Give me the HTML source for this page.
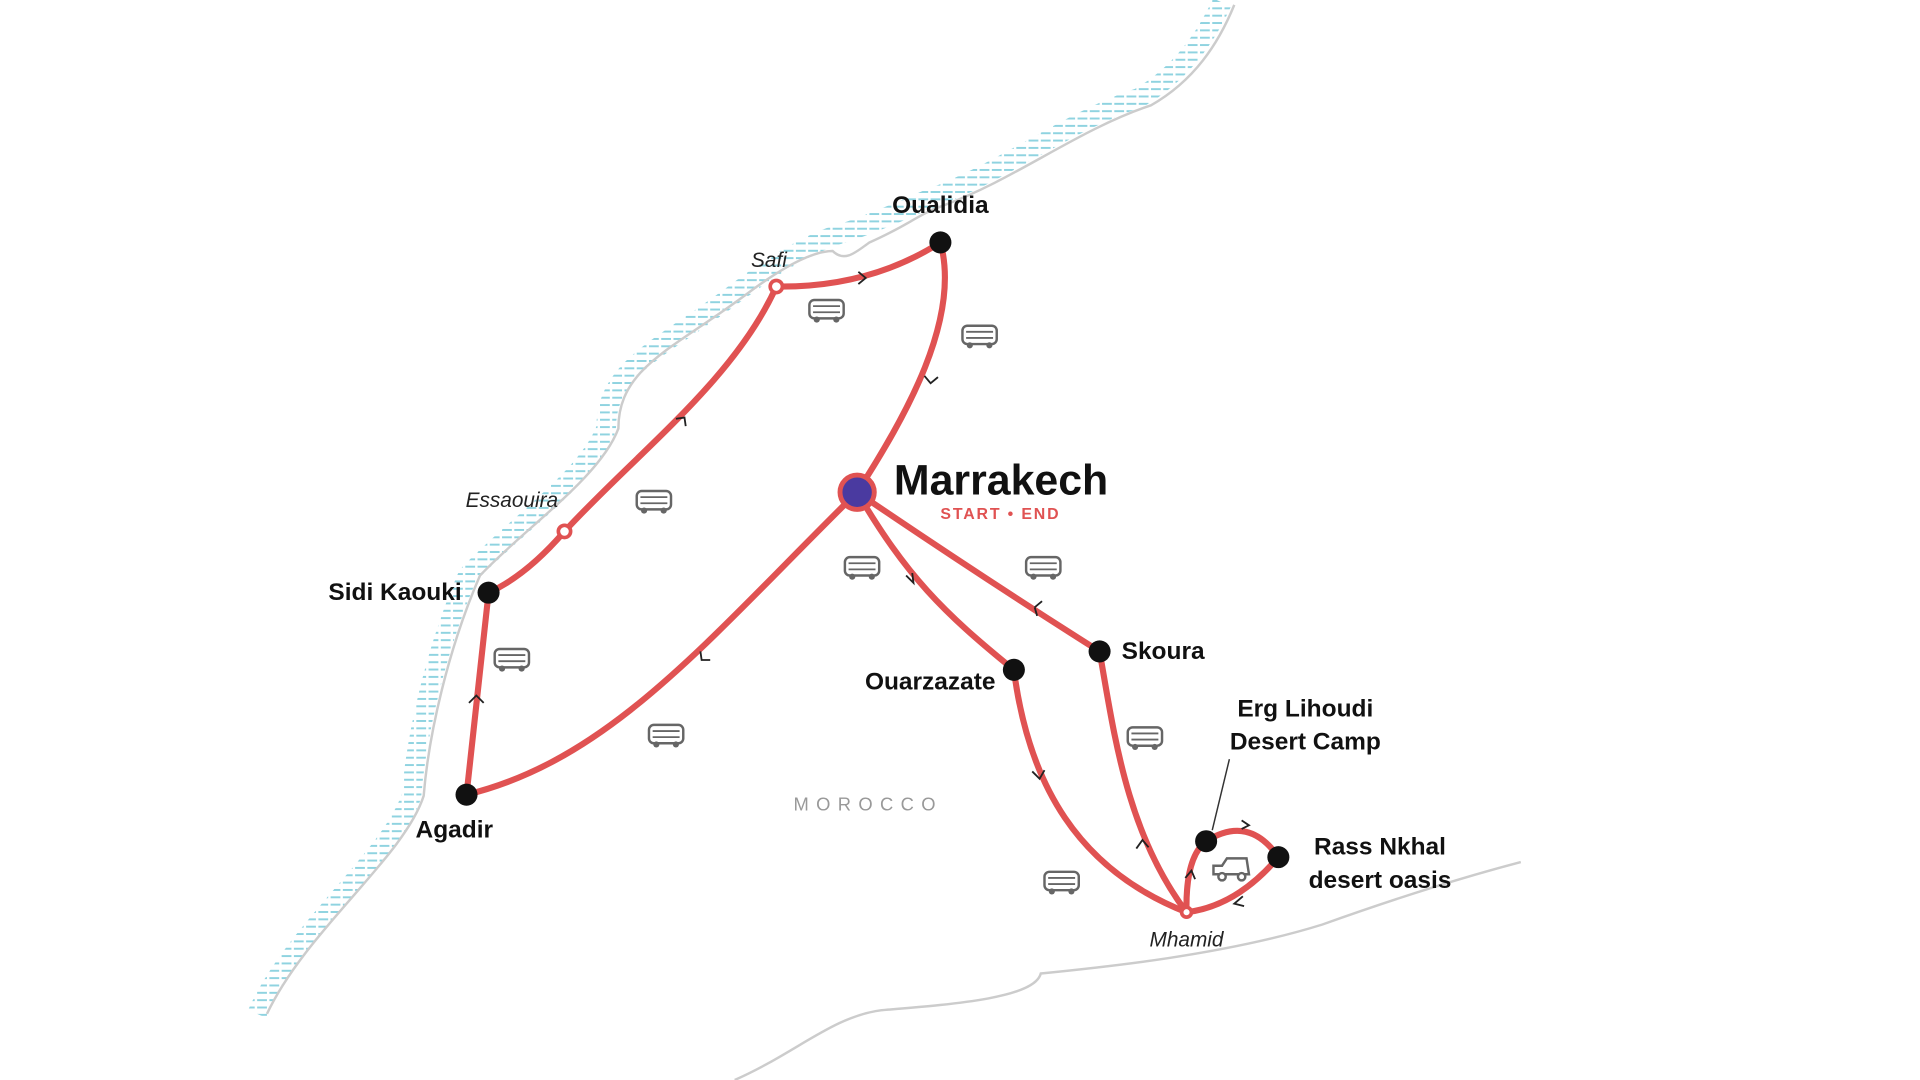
<!DOCTYPE html>
<html><head><meta charset="utf-8"><style>
html,body{margin:0;padding:0;background:#fff;width:1920px;height:1080px;overflow:hidden}
svg{display:block}
.b{font-family:"Liberation Sans",sans-serif;font-weight:bold;font-size:20px;fill:#111}
.i{font-family:"Liberation Sans",sans-serif;font-style:italic;font-size:17px;fill:#222}
</style></head><body>
<svg width="1920" height="1080" viewBox="0 0 1568 882" xmlns="http://www.w3.org/2000/svg">
<defs>
<pattern id="h" width="10" height="6" patternUnits="userSpaceOnUse"><rect x="0" y="0" width="8" height="1.6" fill="#8fd3e0"/></pattern>
<g id="bus"><rect x="-14" y="-8" width="28" height="15" rx="4" fill="#fff" stroke="#666" stroke-width="2"/><line x1="-11" y1="-3" x2="11" y2="-3" stroke="#666" stroke-width="1.5"/><line x1="-11" y1="2" x2="11" y2="2" stroke="#666" stroke-width="1.5"/><circle cx="-8" cy="8" r="2.5" fill="#666"/><circle cx="8" cy="8" r="2.5" fill="#666"/></g>
</defs>
<path d="M210,828 C240,760 320,700 336,650 C340,600 356,530 382,470 C420,430 480,390 495,350 C495,300 540,285 600,240 C640,210 670,195 690,190 C720,180 740,170 760,162 C820,140 870,100 930,80 C965,60 985,30 998,2" fill="none" stroke="url(#h)" stroke-width="16"/>
<path d="M218,828 C250,760 330,700 346,650 C350,600 366,530 392,470 C430,430 490,390 505,350 C505,300 550,285 610,240 C650,210 670,205 680,205 C690,215 700,205 710,198 C740,185 750,175 770,168 C830,146 880,106 940,86 C975,66 995,36 1008,4" fill="none" stroke="#ccc" stroke-width="2"/>
<path d="M600,882 C650,860 680,830 720,825 C780,820 845,815 850,795 C900,790 1000,780 1080,755 C1150,730 1200,715 1242,704" fill="none" stroke="#ccc" stroke-width="2"/>
<text x="709" y="662" text-anchor="middle" font-family="Liberation Sans,sans-serif" font-size="15" letter-spacing="6" fill="#999">MOROCCO</text>
<g fill="none" stroke="#e05252" stroke-width="5" stroke-linecap="round">
<path d="M700,402 C740,340 785,260 768,198"/>
<path d="M768,198 Q710,235 634,234"/>
<path d="M634,234 C600,310 520,370 461,434"/>
<path d="M461,434 Q430,470 399,484"/>
<path d="M399,484 L381,649"/>
<path d="M381,649 C500,620 580,520 700,402"/>
<path d="M700,402 C740,470 770,500 828,547"/>
<path d="M828,547 C840,640 880,710 969,745"/>
<path d="M969,745 C920,680 910,600 898,532"/>
<path d="M898,532 Q800,470 700,402"/>
<path d="M969,745 Q968,700 985,687"/>
<path d="M985,687 Q1020,665 1044,700"/>
<path d="M1044,700 Q1010,740 969,745"/>
</g>
<g fill="none" stroke="#222" stroke-width="1.5">
<path d="M701,222 l6,5 -6,5"/><path d="M755,307 l5,6 6,-5"/><path d="M552,342 l7,-1 1,7"/>
<path d="M383,574 l6,-6 6,6"/><path d="M572,532 l1,7 7,0"/><path d="M740,470 l6,6 -1,-8"/>
<path d="M845,496 l6,-5 M845,496 l2,7"/><path d="M843,630 l6,6 4,-7"/><path d="M928,693 l5,-7 5,6"/>
<path d="M968,717 l5,-6 3,7"/><path d="M1014,670 l6,4 -6,3"/><path d="M1015,732 l-7,6 8,2"/>
</g>
<line x1="990" y1="678" x2="1004" y2="620" stroke="#333" stroke-width="1.2"/>
<use href="#bus" x="675" y="253"/><use href="#bus" x="800" y="274"/><use href="#bus" x="534" y="409"/>
<use href="#bus" x="418" y="538"/><use href="#bus" x="704" y="463"/><use href="#bus" x="852" y="463"/>
<use href="#bus" x="544" y="600"/><use href="#bus" x="935" y="602"/><use href="#bus" x="867" y="720"/>
<g transform="translate(1006,710)" fill="#fff" stroke="#666" stroke-width="2"><path d="M-15,4 L-15,-3 L-8,-3 L-4,-9 L12,-9 L14,4 Z"/><circle cx="-8" cy="6" r="3"/><circle cx="8" cy="6" r="3"/></g>
<g fill="#111"><circle cx="768" cy="198" r="9"/><circle cx="399" cy="484" r="9"/><circle cx="381" cy="649" r="9"/><circle cx="828" cy="547" r="9"/><circle cx="898" cy="532" r="9"/><circle cx="985" cy="687" r="9"/><circle cx="1044" cy="700" r="9"/></g>
<g fill="#fff" stroke="#e05252" stroke-width="3"><circle cx="634" cy="234" r="5"/><circle cx="461" cy="434" r="5"/><circle cx="969" cy="745" r="4"/></g>
<circle cx="700" cy="402" r="14" fill="#4a3aa0" stroke="#e05252" stroke-width="4"/>
<text class="b" x="768" y="174" text-anchor="middle">Oualidia</text>
<text class="i" x="628" y="218" text-anchor="middle">Safi</text>
<text class="i" x="418" y="414" text-anchor="middle">Essaouira</text>
<text class="b" x="377" y="490" text-anchor="end">Sidi Kaouki</text>
<text class="b" x="371" y="684" text-anchor="middle">Agadir</text>
<text x="730" y="404" font-family="Liberation Sans,sans-serif" font-weight="bold" font-size="35" fill="#111">Marrakech</text>
<text x="817" y="424" text-anchor="middle" font-family="Liberation Sans,sans-serif" font-weight="bold" font-size="13" letter-spacing="1.5" fill="#e05252">START • END</text>
<text class="b" x="813" y="563" text-anchor="end">Ouarzazate</text>
<text class="b" x="916" y="538">Skoura</text>
<text class="b" x="1066" y="585" text-anchor="middle">Erg Lihoudi</text>
<text class="b" x="1066" y="612" text-anchor="middle">Desert Camp</text>
<text class="b" x="1127" y="698" text-anchor="middle">Rass Nkhal</text>
<text class="b" x="1127" y="725" text-anchor="middle">desert oasis</text>
<text class="i" x="969" y="773" text-anchor="middle">Mhamid</text>
</svg>
</body></html>
